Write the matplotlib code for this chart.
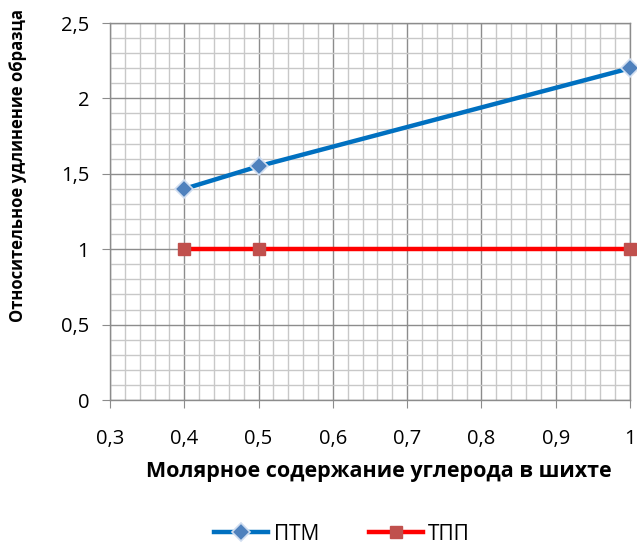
import matplotlib
matplotlib.use("Agg")
import matplotlib.pyplot as plt
from matplotlib.ticker import MultipleLocator, FuncFormatter

plt.rcParams['font.family'] = ['Open Sans', 'DejaVu Sans']

x_ptm = [0.4, 0.5, 1.0]
y_ptm = [1.4, 1.55, 2.2]
x_tpp = [0.4, 0.5, 1.0]
y_tpp = [1.0, 1.0, 1.0]
series_names = ["ПТМ", "ТПП"]
x_label = "Молярное содержание углерода в шихте"
y_label = "Относительное удлинение образца"

W, H = 637, 550
fig = plt.figure(figsize=(W / 100, H / 100), dpi=100)
ax = fig.add_axes([110/W, 150/H, 520/W, 377/H])

ax.set_xlim(0.3, 1.0)
ax.set_ylim(0, 2.5)
ax.xaxis.set_major_locator(MultipleLocator(0.1))
ax.xaxis.set_minor_locator(MultipleLocator(0.02))
ax.yaxis.set_major_locator(MultipleLocator(0.5))
ax.yaxis.set_minor_locator(MultipleLocator(0.1))

fmt = FuncFormatter(lambda v, p: ("%g" % round(v, 2)).replace(".", ","))
ax.xaxis.set_major_formatter(fmt)
ax.yaxis.set_major_formatter(fmt)

ax.grid(which='minor', color='#c8c8c8', linewidth=1.0)
ax.grid(which='major', color='#8c8c8c', linewidth=1.0)
ax.set_axisbelow(True)
for s in ax.spines.values():
    s.set_color('#8c8c8c')
    s.set_linewidth(1.0)

ax.tick_params(which='major', direction='out', length=6, color='#8c8c8c',
               labelsize=14.5)
ax.tick_params(axis='x', pad=15)
ax.tick_params(axis='y', pad=9)
ax.tick_params(which='minor', length=0)

ax.plot(x_ptm, y_ptm, color='#0070C0', linewidth=3.2, marker='D',
        markersize=9, markerfacecolor='#4F81BD', markeredgecolor='#D0DDF0',
        markeredgewidth=1.2, label=series_names[0], clip_on=False, zorder=3)
ax.plot(x_tpp, y_tpp, color='#FF0000', linewidth=3.2, marker='s',
        markersize=9, markerfacecolor='#C0504D', markeredgecolor='#C0504D',
        label=series_names[1], clip_on=False, zorder=3)

fig.text(379/W, 1 - 472/H, x_label, fontsize=15.5, fontweight='bold',
         ha='center', va='center')
fig.text(18/W, 1 - 165/H, y_label, fontsize=12, fontweight='bold',
         ha='center', va='center', rotation=90)

fig.legend(loc='center', bbox_to_anchor=(342/W, 1 - 534/H), ncol=2,
           frameon=False, fontsize=15, handlelength=2.6, columnspacing=2.4,
           handletextpad=0.25, borderpad=0.2)

fig.savefig("out.png", dpi=100)
